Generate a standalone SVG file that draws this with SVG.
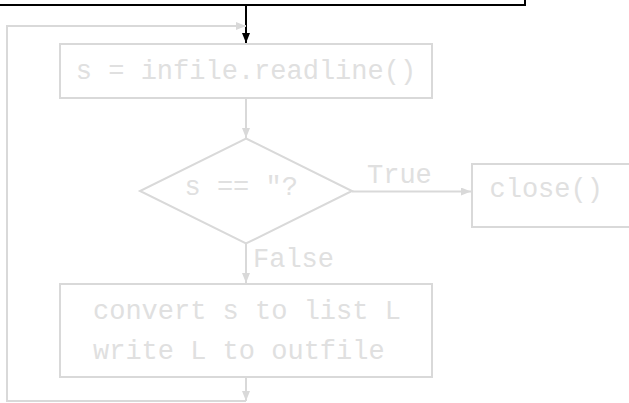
<svg xmlns="http://www.w3.org/2000/svg" width="629" height="403" viewBox="0 0 629 403">
<style>
.box{fill:#ffffff;stroke:#d9d9d9;stroke-width:2}
.t{font-family:"Liberation Mono","DejaVu Sans Mono",monospace;font-size:27px;fill:#e0e0e0}
.g{fill:none;stroke:#d9d9d9;stroke-width:2}
.k{fill:none;stroke:#000000;stroke-width:2}
</style>
<defs>
<marker id="ag" viewBox="0 0 10 8" refX="10" refY="4" markerWidth="10" markerHeight="8" markerUnits="userSpaceOnUse" orient="auto"><path d="M0,0 L10,4 L0,8 Z" fill="#d9d9d9"/></marker>
<marker id="ak" viewBox="0 0 10 8" refX="10" refY="4" markerWidth="10" markerHeight="8" markerUnits="userSpaceOnUse" orient="auto"><path d="M0,0 L10,4 L0,8 Z" fill="#000000"/></marker>
</defs>
<rect width="629" height="403" fill="#ffffff"/>
<g id="connectors">
<path class="k" d="M0,5 H525 V0"/>
<path class="k" d="M246,5 V43" marker-end="url(#ak)"/>
<path class="g" d="M246,401 H7 V26 H246" marker-end="url(#ag)"/>
<path class="g" d="M246,98 V138" marker-end="url(#ag)"/>
<path class="g" d="M352,191.5 H471" marker-end="url(#ag)"/>
<path class="g" d="M246,243.5 V283" marker-end="url(#ag)"/>
<path class="g" d="M246,377 V401" marker-end="url(#ag)"/>
<text class="t" x="367" y="183">True</text>
<text class="t" x="253" y="267">False</text>
</g>
<g id="readline">
<rect class="box" x="60" y="44" width="372" height="54"/>
<text class="t" x="246" y="79" text-anchor="middle">s = infile.readline()</text>
</g>
<g id="test">
<polygon class="box" points="246,138.5 352,191 246,243.5 140,191"/>
<text class="t" x="184.5" y="195">s == ″?</text>
</g>
<g id="close">
<rect class="box" x="472" y="164" width="200" height="63"/>
<text class="t" x="489.5" y="197">close()</text>
</g>
<g id="convert">
<rect class="box" x="60" y="284" width="372" height="93"/>
<text class="t" x="93" y="319">convert s to list L</text>
<text class="t" x="93" y="359">write L to outfile</text>
</g>
</svg>
